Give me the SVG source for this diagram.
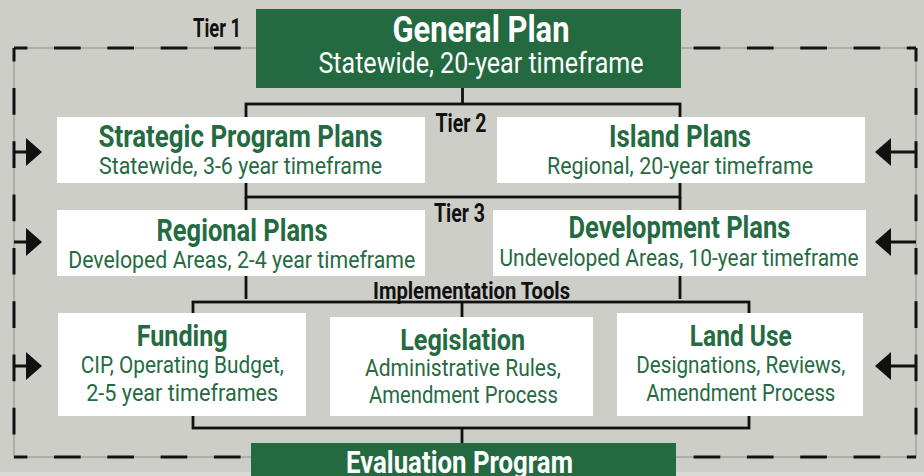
<svg xmlns="http://www.w3.org/2000/svg" width="924" height="476" viewBox="0 0 924 476">
<defs>
<style>
.bg{fill:#cecec9}
.gbox{fill:#236a40}
.wbox{fill:#ffffff}
.ln{stroke:#111;stroke-width:2.8;fill:none}
.thin{stroke:#8e8e8a;stroke-width:1;fill:none}
.dash{stroke:#111;stroke-width:3;fill:none;stroke-dasharray:26.7 26.6;stroke-dashoffset:13.3}
.ah{fill:#111}
text{font-family:Roboto,"Liberation Sans",sans-serif;text-anchor:middle}
.t1{font-size:36px;font-weight:700;fill:#fff}
.s1{font-size:30px;fill:#fff}
.tg{font-size:31px;font-weight:700;fill:#256b42}
.sg{font-size:24px;fill:#256b42}
.tier{font-size:25px;font-weight:700;fill:#111}
</style>
</defs>
<rect class="bg" x="0" y="0" width="924" height="476"/>
<rect x="0" y="472" width="924" height="4" fill="#d9d9d5"/>
<g id="connectors">
  <rect class="thin" x="14" y="48" width="902" height="409"/>
  <line class="dash" x1="14" y1="48" x2="916" y2="48"/>
  <line class="dash" x1="14" y1="457" x2="916" y2="457"/>
  <line class="dash" x1="14" y1="48" x2="14" y2="457"/>
  <line class="dash" x1="916" y1="48" x2="916" y2="457"/>
  <path class="ln" d="M14 152H28M14 242H28M14 366H28M890 152H916M890 242H916M890 366H916" style="stroke-width:3"/>
  <polygon class="ah" points="26,138 42,152 26,166"/>
  <polygon class="ah" points="26,228 42,242 26,256"/>
  <polygon class="ah" points="26,352 42,366 26,380"/>
  <polygon class="ah" points="891,138 875,152 891,166"/>
  <polygon class="ah" points="891,228 875,242 891,256"/>
  <polygon class="ah" points="891,352 875,366 891,380"/>
  <path class="ln" d="M462.5 88V104"/>
  <rect class="ln" x="246" y="104" width="434" height="93"/>
  <path class="ln" d="M246 197V299M680 197V299"/>
  <rect class="ln" x="193" y="302" width="556" height="126"/>
  <path class="ln" d="M462 302V318M462 428V444"/>
</g>
<g id="tier-labels">
  <text class="tier" x="241" y="37.3" style="text-anchor:end" textLength="48" lengthAdjust="spacingAndGlyphs">Tier 1</text>
  <text class="tier" x="461" y="131.7" textLength="51" lengthAdjust="spacingAndGlyphs">Tier 2</text>
  <text class="tier" x="459.5" y="221.5" textLength="51" lengthAdjust="spacingAndGlyphs">Tier 3</text>
  <text class="tier" x="471.5" y="298.6" style="font-size:23.5px" textLength="197" lengthAdjust="spacingAndGlyphs">Implementation Tools</text>
</g>
<g id="general-plan">
  <rect class="gbox" x="256" y="9" width="425" height="79"/>
  <text class="t1" x="481" y="42.3" textLength="177" lengthAdjust="spacingAndGlyphs">General Plan</text>
  <text class="s1" x="481" y="73.3" textLength="325" lengthAdjust="spacingAndGlyphs">Statewide, 20-year timeframe</text>
</g>
<g id="strategic-program-plans">
  <rect class="wbox" x="57" y="117" width="368" height="66"/>
  <text class="tg" x="240.5" y="146.7" textLength="284" lengthAdjust="spacingAndGlyphs">Strategic Program Plans</text>
  <text class="sg" x="240.5" y="174" textLength="283" lengthAdjust="spacingAndGlyphs">Statewide, 3-6 year timeframe</text>
</g>
<g id="island-plans">
  <rect class="wbox" x="497" y="117" width="368" height="66"/>
  <text class="tg" x="680" y="146.7" textLength="142" lengthAdjust="spacingAndGlyphs">Island Plans</text>
  <text class="sg" x="680" y="174" textLength="266" lengthAdjust="spacingAndGlyphs">Regional, 20-year timeframe</text>
</g>
<g id="regional-plans">
  <rect class="wbox" x="57" y="210" width="368" height="66"/>
  <text class="tg" x="242" y="240.7" textLength="171" lengthAdjust="spacingAndGlyphs">Regional Plans</text>
  <text class="sg" x="241.7" y="268.3" textLength="347" lengthAdjust="spacingAndGlyphs">Developed Areas, 2-4 year timeframe</text>
</g>
<g id="development-plans">
  <rect class="wbox" x="493" y="210" width="373" height="66"/>
  <text class="tg" x="679.5" y="238" textLength="222" lengthAdjust="spacingAndGlyphs">Development Plans</text>
  <text class="sg" x="679" y="266" textLength="359" lengthAdjust="spacingAndGlyphs">Undeveloped Areas, 10-year timeframe</text>
</g>
<g id="funding">
  <rect class="wbox" x="58" y="313" width="248" height="103"/>
  <text class="tg" x="182.2" y="345.7" style="font-size:29.5px" textLength="91" lengthAdjust="spacingAndGlyphs">Funding</text>
  <text class="sg" x="182.3" y="373.3" textLength="203" lengthAdjust="spacingAndGlyphs">CIP, Operating Budget,</text>
  <text class="sg" x="182.2" y="400.7" textLength="192" lengthAdjust="spacingAndGlyphs">2-5 year timeframes</text>
</g>
<g id="legislation">
  <rect class="wbox" x="330" y="317" width="263" height="99"/>
  <text class="tg" x="462.7" y="350" style="font-size:30px" textLength="125" lengthAdjust="spacingAndGlyphs">Legislation</text>
  <text class="sg" x="463" y="376" textLength="196" lengthAdjust="spacingAndGlyphs">Administrative Rules,</text>
  <text class="sg" x="463.5" y="403" textLength="189" lengthAdjust="spacingAndGlyphs">Amendment Process</text>
</g>
<g id="land-use">
  <rect class="wbox" x="617" y="313" width="246" height="103"/>
  <text class="tg" x="740.8" y="345.7" style="font-size:29.5px" textLength="102" lengthAdjust="spacingAndGlyphs">Land Use</text>
  <text class="sg" x="740.8" y="373.3" textLength="209" lengthAdjust="spacingAndGlyphs">Designations, Reviews,</text>
  <text class="sg" x="740.8" y="400.7" textLength="189" lengthAdjust="spacingAndGlyphs">Amendment Process</text>
</g>
<g id="evaluation-program">
  <rect class="gbox" x="251" y="443" width="425" height="40"/>
  <text class="t1" x="459.5" y="473" style="font-size:32px" textLength="227" lengthAdjust="spacingAndGlyphs">Evaluation Program</text>
</g>
</svg>
